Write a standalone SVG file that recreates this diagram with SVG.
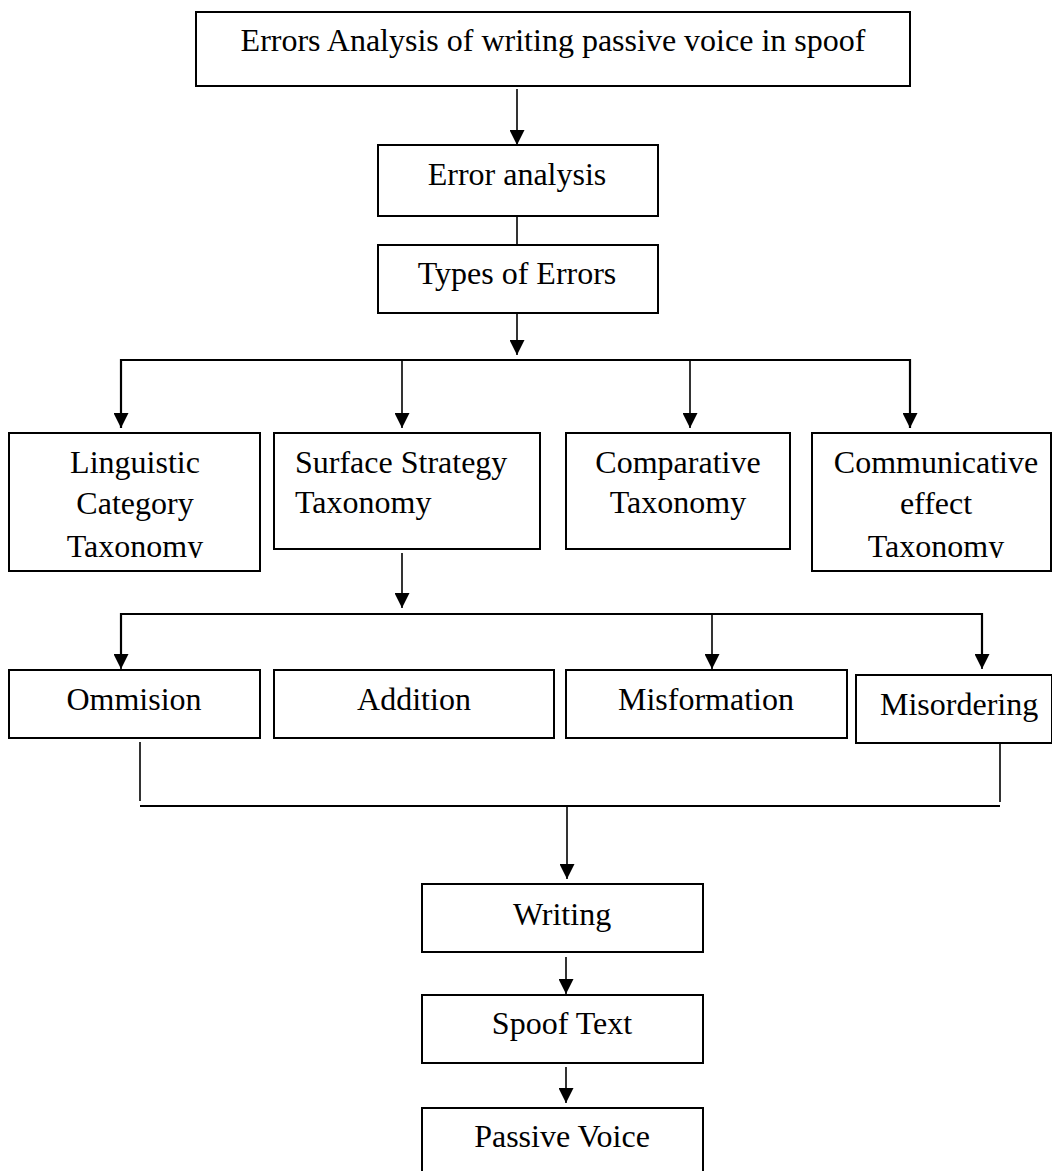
<svg xmlns="http://www.w3.org/2000/svg" width="1052" height="1171" viewBox="0 0 1052 1171">
<style>
.box{fill:#fff;stroke:#000;stroke-width:2}
.t{font-family:"Liberation Serif","Times New Roman",serif;font-size:32px;fill:#000}
.c{text-anchor:middle}
.ln{fill:none;stroke:#000;stroke-width:1.6}
.hl{fill:none;stroke:#000;stroke-width:2.2}
</style>
<defs>
<marker id="ah" markerWidth="15" markerHeight="15" refX="15" refY="7.5" orient="auto" markerUnits="userSpaceOnUse">
<path d="M0,0 L15,7.5 L0,15 z" fill="#000"/>
</marker>
<clipPath id="clipL"><rect x="0" y="420" width="270" height="138"/></clipPath>
<clipPath id="clipC"><rect x="800" y="420" width="252" height="138"/></clipPath>
</defs>
<rect width="1052" height="1171" fill="#fff"/>

<g id="connectors">
<line class="ln" x1="517" y1="89" x2="517" y2="145" marker-end="url(#ah)"/>
<line class="ln" x1="517" y1="216" x2="517" y2="245"/>
<line class="ln" x1="517" y1="299" x2="517" y2="355" marker-end="url(#ah)"/>
<polyline class="hl" points="121,428 121,360 910,360 910,428"/>
<line class="ln" x1="121" y1="400" x2="121" y2="428" marker-end="url(#ah)"/>
<line class="ln" x1="402" y1="360" x2="402" y2="428" marker-end="url(#ah)"/>
<line class="ln" x1="690" y1="360" x2="690" y2="428" marker-end="url(#ah)"/>
<line class="ln" x1="910" y1="400" x2="910" y2="428" marker-end="url(#ah)"/>
<line class="ln" x1="402" y1="553" x2="402" y2="608" marker-end="url(#ah)"/>
<polyline class="hl" points="121,660 121,614 982,614 982,660"/>
<line class="ln" x1="121" y1="640" x2="121" y2="669" marker-end="url(#ah)"/>
<line class="ln" x1="712" y1="614" x2="712" y2="669" marker-end="url(#ah)"/>
<line class="ln" x1="982" y1="640" x2="982" y2="669" marker-end="url(#ah)"/>
<line class="ln" x1="140" y1="742" x2="140" y2="801"/>
<line class="ln" x1="1000" y1="743" x2="1000" y2="802"/>
<line class="hl" x1="140" y1="806" x2="1000" y2="806"/>
<line class="ln" x1="567" y1="806" x2="567" y2="879" marker-end="url(#ah)"/>
<line class="ln" x1="566" y1="957" x2="566" y2="994" marker-end="url(#ah)"/>
<line class="ln" x1="566" y1="1067" x2="566" y2="1103" marker-end="url(#ah)"/>
</g>

<g id="n-top">
<rect class="box" x="196" y="12" width="714" height="74"/>
<text class="t c" x="553" y="51">Errors Analysis of writing passive voice in spoof</text>
</g>
<g id="n-error-analysis">
<rect class="box" x="378" y="145" width="280" height="71"/>
<text class="t c" x="517" y="185">Error analysis</text>
</g>
<g id="n-types">
<rect class="box" x="378" y="245" width="280" height="68"/>
<text class="t c" x="517" y="284">Types of Errors</text>
</g>

<g id="n-linguistic">
<rect class="box" x="9" y="433" width="251" height="138"/>
<g clip-path="url(#clipL)">
<text class="t c" x="135" y="473">Linguistic</text>
<text class="t c" x="135" y="514">Category</text>
<text class="t c" x="135" y="557">Taxonomy</text>
</g>
</g>
<g id="n-surface">
<rect class="box" x="274" y="433" width="266" height="116"/>
<text class="t" x="295" y="473">Surface Strategy</text>
<text class="t" x="295" y="513">Taxonomy</text>
</g>
<g id="n-comparative">
<rect class="box" x="566" y="433" width="224" height="116"/>
<text class="t c" x="678" y="473">Comparative</text>
<text class="t c" x="678" y="513">Taxonomy</text>
</g>
<g id="n-communicative">
<rect class="box" x="812" y="433" width="239" height="138"/>
<g clip-path="url(#clipC)">
<text class="t c" x="936" y="473">Communicative</text>
<text class="t c" x="936" y="514">effect</text>
<text class="t c" x="936" y="557">Taxonomy</text>
</g>
</g>

<g id="n-ommision">
<rect class="box" x="9" y="670" width="251" height="68"/>
<text class="t c" x="134" y="710">Ommision</text>
</g>
<g id="n-addition">
<rect class="box" x="274" y="670" width="280" height="68"/>
<text class="t c" x="414" y="710">Addition</text>
</g>
<g id="n-misformation">
<rect class="box" x="566" y="670" width="281" height="68"/>
<text class="t c" x="706" y="710">Misformation</text>
</g>
<g id="n-misordering">
<rect class="box" x="856" y="675" width="196" height="68"/>
<text class="t" x="880" y="715">Misordering</text>
</g>

<g id="n-writing">
<rect class="box" x="422" y="884" width="281" height="68"/>
<text class="t c" x="562" y="925">Writing</text>
</g>
<g id="n-spoof">
<rect class="box" x="422" y="995" width="281" height="68"/>
<text class="t c" x="562" y="1034">Spoof Text</text>
</g>
<g id="n-passive">
<rect class="box" x="422" y="1108" width="281" height="70"/>
<text class="t c" x="562" y="1147">Passive Voice</text>
</g>
</svg>
